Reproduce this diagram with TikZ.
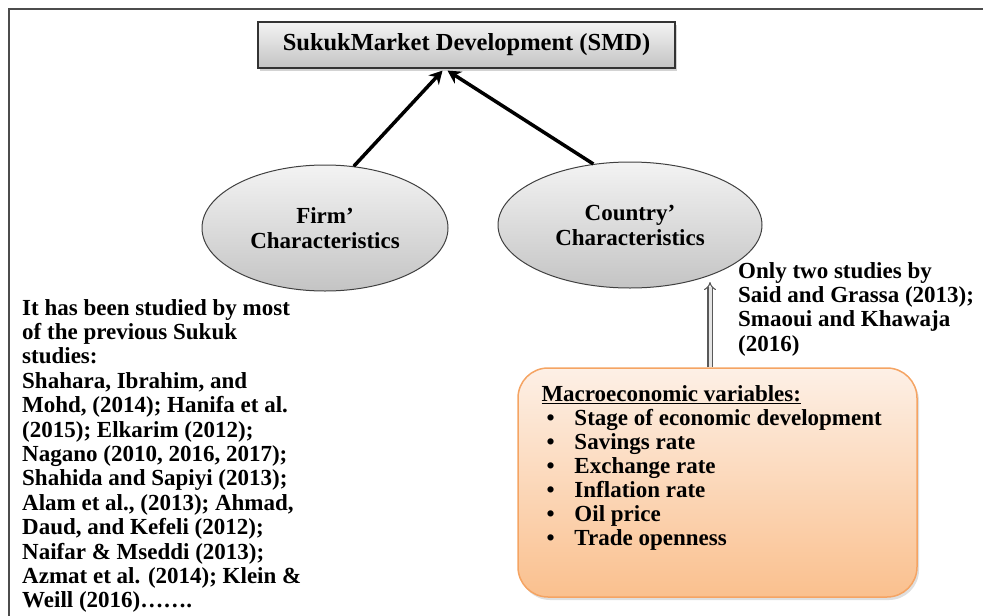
\documentclass[tikz,border=0pt]{standalone}
\usepackage{fontspec}
\setmainfont{Liberation Serif}
\usepackage{xcolor}
\usetikzlibrary{arrows.meta, positioning, calc, shapes.geometric, shadows}

\definecolor{peachtop}{HTML}{FDF0E6}
\definecolor{peachbot}{HTML}{FAC08E}
\definecolor{peachline}{HTML}{F5A463}
\definecolor{ovaltop}{HTML}{F3F3F3}
\definecolor{ovalbot}{HTML}{C4C4C4}

\begin{document}
\begin{tikzpicture}[x=1pt, y=-1pt, % pixel grid of the figure
		txt/.style={font=\fontsize{23}{24.4}\selectfont\bfseries, text=black},
		titlebox/.style={rectangle, draw=black!80, line width=1.2pt, top color=ovaltop, bottom color=ovalbot, minimum width=417pt, minimum height=46pt, drop shadow={shadow xshift=2pt, shadow yshift=-3pt, opacity=0.35}, txt, font=\fontsize{24.5}{26}\selectfont\bfseries},
		oval/.style={ellipse, draw=black!75, line width=1pt, top color=ovaltop, bottom color=ovalbot, inner sep=0pt, align=center, txt, font=\fontsize{23}{25}\selectfont\bfseries},
		varbox/.style={rectangle, rounded corners=30pt, draw=peachline, line width=1.5pt, top color=peachtop, bottom color=peachbot, minimum width=399pt, minimum height=229pt, inner sep=0pt, drop shadow={shadow xshift=2pt, shadow yshift=-3pt, opacity=0.25}, txt, font=\fontsize{23}{24}\selectfont\bfseries},
		note/.style={align=left, inner sep=0pt, anchor=north west, txt},
		arrow/.style={-{Stealth[length=13pt, width=14pt]}, line width=3.5pt},
		hollow/.style={draw=black!65, double=black!10, double distance=3pt, line width=1.1pt, -{Implies}}
		]
		
		\useasboundingbox (0,0) rectangle (983,616);
		
		% frame of the figure
		\draw[black!70, line width=2pt] (9,616) -- (9,9) -- (983,9);
		
		% dependent variable
		\node[titlebox] (smd) at (466.5,45) {SukukMarket Development (SMD)};
		
		% the two groups of determinants
		\node[oval, minimum width=246pt, minimum height=126pt] (firm) at (325,228) {Firm’\\Characteristics};
		\node[oval, minimum width=264pt, minimum height=126pt] (country) at (630,225) {Country’\\Characteristics};
		\draw[arrow] (firm.65) -- ([xshift=-24pt, yshift=-2pt]smd.south);
		\draw[arrow] (country.121) -- ([xshift=-19pt, yshift=-2pt]smd.south);
		
		% literature on firm side
		\node[note] (firmnote) at (22,299) {It has been studied by most\\of the previous Sukuk\\studies:\\Shahara, Ibrahim, and\\Mohd, (2014); Hanifa et al.\\(2015); Elkarim (2012);\\Nagano (2010, 2016, 2017);\\Shahida and Sapiyi (2013);\\Alam et al., (2013); Ahmad,\\Daud, and Kefeli (2012);\\Naifar \& Mseddi (2013);\\Azmat et al. (2014); Klein \&\\Weill (2016)…….};
		
		% literature on country side
		\node[note] (countrynote) at (738,262) {Only two studies by\\Said and Grassa (2013);\\Smaoui and Khawaja\\(2016)};
		
		% macroeconomic variables
		\node[varbox] (macro) at (717.5,482.5) {\parbox[c][193pt][t]{352pt}{\underline{Macroeconomic variables:}\\
				\hspace*{5pt}\makebox[28pt][l]{\textbullet}Stage of economic development\\
				\hspace*{5pt}\makebox[28pt][l]{\textbullet}Savings rate\\
				\hspace*{5pt}\makebox[28pt][l]{\textbullet}Exchange rate\\
				\hspace*{5pt}\makebox[28pt][l]{\textbullet}Inflation rate\\
				\hspace*{5pt}\makebox[28pt][l]{\textbullet}Oil price\\
				\hspace*{5pt}\makebox[28pt][l]{\textbullet}Trade openness}};
		\coordinate (tip) at (710,282);
		\draw[hollow] (macro.north -| tip) -- (tip);
		
	\end{tikzpicture}
\end{document}
